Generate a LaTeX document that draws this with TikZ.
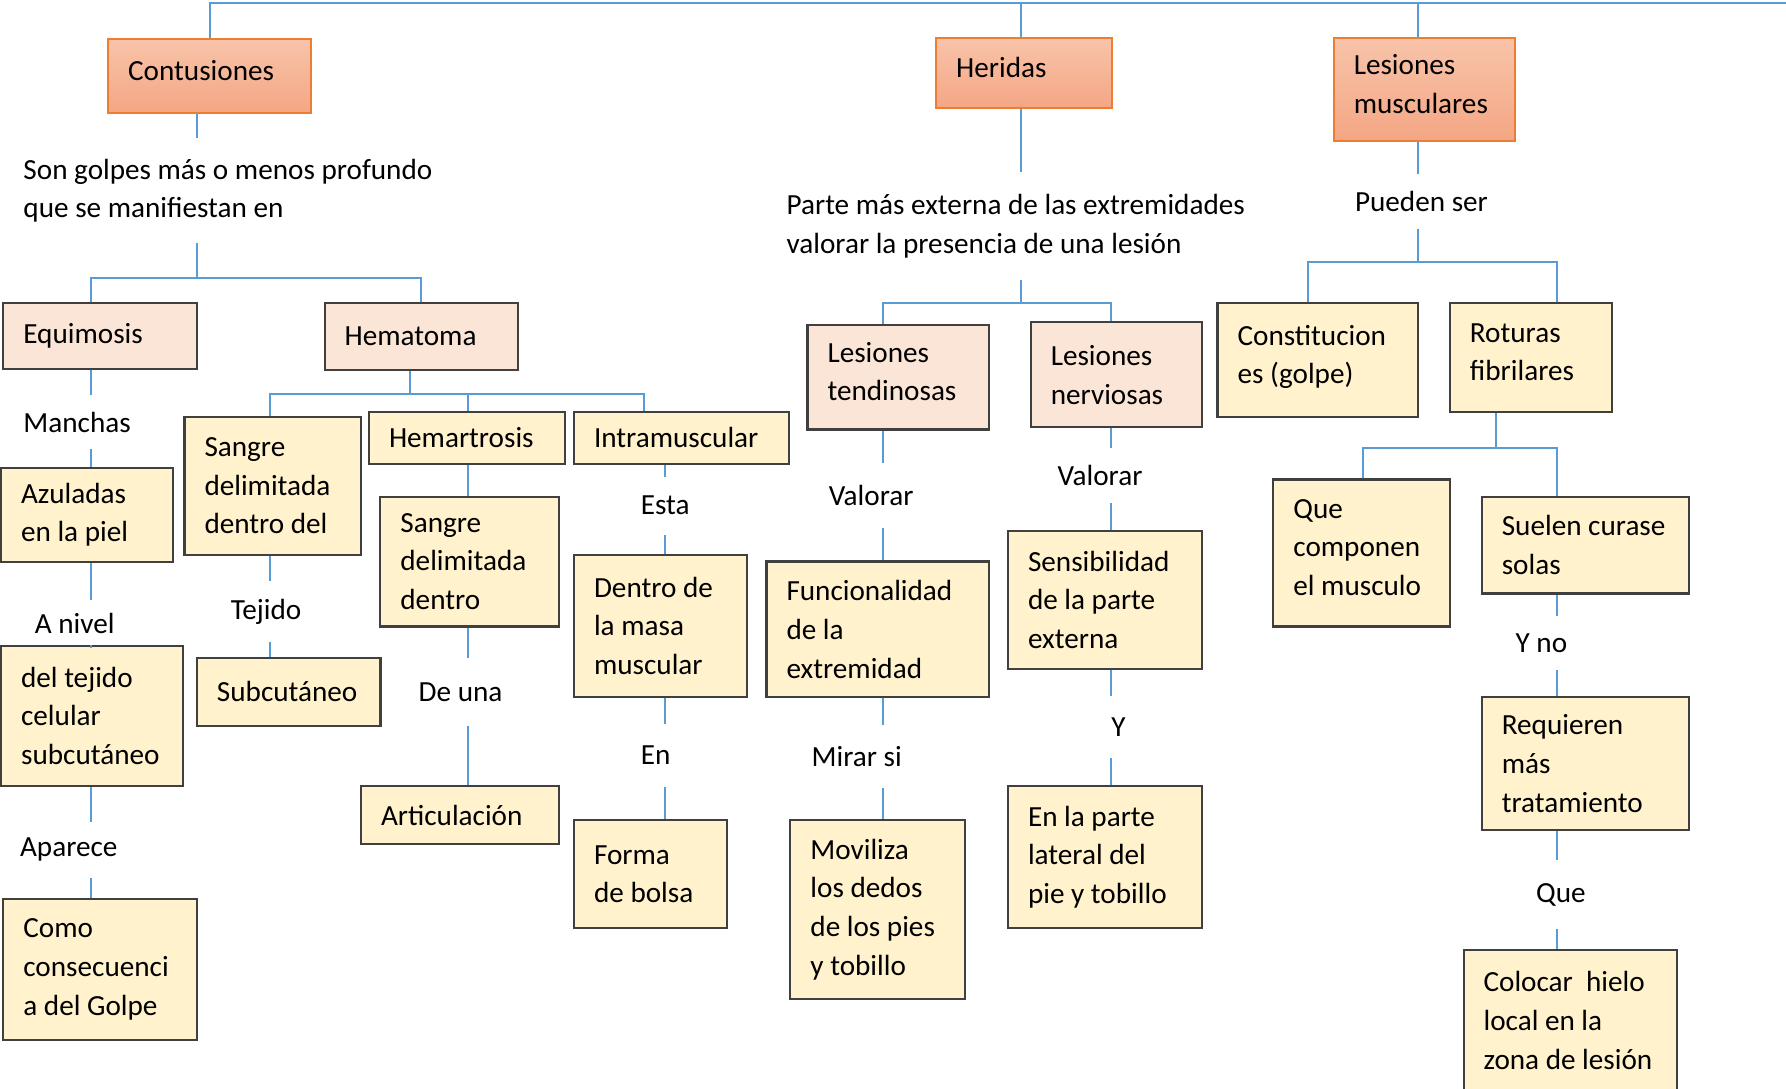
\documentclass[tikz,border=0pt]{standalone}
\usepackage{fontspec}
\setmainfont{Carlito}
\definecolor{titletop}{RGB}{248,196,170}
\definecolor{titlebot}{RGB}{244,166,132}
\definecolor{titleline}{RGB}{237,125,49}
\definecolor{pinkfill}{RGB}{251,229,214}
\definecolor{yellowfill}{RGB}{255,242,204}
\definecolor{boxline}{RGB}{64,64,64}
\definecolor{linkblue}{RGB}{91,155,213}
\newcommand{\lowstrut}{\rule[-3.2pt]{0pt}{3.2pt}}

\begin{document}
\begin{tikzpicture}[
    x=0.01139cm, y=-0.01139cm,
    font=\fontsize{8.3}{11}\selectfont,
    base/.style={rectangle, draw=boxline, line width=0.6pt, inner xsep=0.2cm, inner ysep=0pt, align=left,
        execute at begin node={\spaceskip=0pt\xspaceskip=0pt}},
    topic/.style={base, draw=titleline, top color=titletop, bottom color=titlebot},
    subtopic/.style={base, fill=pinkfill},
    item/.style={base, fill=yellowfill},
    link/.style={inner sep=0pt, align=left, anchor=west},
    conn/.style={draw=linkblue, line width=0.6pt}
]
    \useasboundingbox (0,0) rectangle (1568,956);

    % Top level
    \node[topic, text width=1.627cm, minimum height=0.740cm] (cont) at (184,66.5) {Contusiones\lowstrut};
    \node[topic, text width=1.354cm, minimum height=0.706cm] (her) at (899,64) {Heridas\lowstrut};
    \node[topic, text width=1.411cm, minimum height=1.036cm] (lmus) at (1250.5,78.5) {Lesiones\\musculares\lowstrut};

    % Contusiones
    \node[link, minimum height=1.036cm] (golpes) at (20,167.5) {Son golpes más o menos profundo\\que se manifiestan en};
    \node[subtopic, text width=1.536cm, minimum height=0.661cm] (equi) at (88,295) {Equimosis};
    \node[subtopic, text width=1.536cm, minimum height=0.672cm] (hema) at (370,295.5) {Hematoma};

    % Equimosis column
    \node[link, minimum height=0.535cm] (manchas) at (20,370.5) {Manchas};
    \node[item, text width=1.320cm, minimum height=0.934cm] (azul) at (76.5,452) {Azuladas\\en la piel};
    \node[link, minimum height=0.467cm] (anivel) at (30,547.5) {A nivel};
    \node[item, text width=1.422cm, minimum height=1.401cm] (tejcel) at (81,628.5) {del tejido\\celular\\subcutáneo};
    \node[link, minimum height=0.547cm] (aparece) at (17,746) {Aparece};
    \node[item, text width=1.536cm, minimum height=1.412cm] (como) at (88,851) {Como\\consecuenci\\a del Golpe};

    % Hematoma columns
    \node[item, text width=1.365cm, minimum height=1.378cm] (sang1) at (239.5,426.5) {Sangre\\delimitada\\dentro del};
    \node[link, minimum height=0.592cm] (tejido) at (202,537) {Tejido};
    \node[item, text width=1.434cm, minimum height=0.672cm] (subc) at (253.5,607.5) {Subcutáneo};
    \node[item, text width=1.559cm, minimum height=0.513cm] (hemar) at (410,384.5) {Hemartrosis};
    \node[item, text width=1.388cm, minimum height=1.298cm] (sang2) at (412.5,493) {Sangre\\delimitada\\dentro};
    \node[link, minimum height=0.672cm] (deuna) at (367,607.5) {De una};
    \node[item, text width=1.582cm, minimum height=0.581cm] (artic) at (404,715.5) {Articulación};
    \node[item, text width=1.753cm, minimum height=0.513cm] (intra) at (598.5,384.5) {Intramuscular};
    \node[link, minimum height=0.570cm] (esta) at (562,444) {Esta};
    \node[item, text width=1.331cm, minimum height=1.424cm] (dentro) at (580,549.5) {Dentro de\\la masa\\muscular};
    \node[link, minimum height=0.615cm] (en) at (562,663) {En};
    \node[item, text width=1.126cm, minimum height=1.082cm] (forma) at (571,767.5) {Forma\\de bolsa};

    % Heridas
    \node[link, minimum height=1.059cm] (parte) at (690,198.5) {Parte más externa de las extremidades\\valorar la presencia de una lesión};
    \node[subtopic, text width=1.411cm, minimum height=1.048cm] (ltend) at (788.5,331) {Lesiones\\tendinosas\lowstrut};
    \node[link, minimum height=0.638cm] (valtend) at (727,435) {Valorar};
    \node[item, text width=1.821cm, minimum height=1.355cm] (func) at (770.5,552.5) {Funcionalidad\\de la\\extremidad};
    \node[link, minimum height=0.615cm] (mirar) at (712,664) {Mirar si};
    \node[item, text width=1.343cm, minimum height=1.788cm] (movil) at (770.5,798.5) {Moviliza\\los dedos\\de los pies\\y tobillo};
    \node[subtopic, text width=1.309cm, minimum height=1.048cm] (lnerv) at (980,329) {Lesiones\\nerviosas};
    \node[link, minimum height=0.535cm] (valnerv) at (928,417.5) {Valorar};
    \node[item, text width=1.536cm, minimum height=1.378cm] (sens) at (970,526.5) {Sensibilidad\\de la parte\\externa};
    \node[link, minimum height=0.604cm] (yy) at (975,638.5) {Y};
    \node[item, text width=1.536cm, minimum height=1.424cm] (lateral) at (970,752.5) {En la parte\\lateral del\\pie y tobillo};

    % Lesiones musculares
    \node[link, minimum height=0.535cm] (pueden) at (1189,176.5) {Pueden ser};
    \node[item, text width=1.605cm, minimum height=1.139cm] (const) at (1157,316) {Constitucion\\es (golpe)\lowstrut};
    \node[item, text width=1.217cm, minimum height=1.093cm] (rot) at (1344,314) {Roturas\\fibrilares\lowstrut};
    \node[item, text width=1.365cm, minimum height=1.469cm] (quecomp) at (1195.5,485.5) {Que\\componen\\el musculo\lowstrut};
    \node[item, text width=1.673cm, minimum height=0.968cm] (suelen) at (1392,478.5) {Suelen curase\\solas};
    \node[link, minimum height=0.535cm] (yno) at (1330,564.5) {Y no};
    \node[item, text width=1.673cm, minimum height=1.333cm] (requ) at (1392,670.5) {Requieren\\más\\tratamiento};
    \node[link, minimum height=0.672cm] (que) at (1348,785.5) {Que};
    \node[item, text width=1.730cm, minimum height=1.412cm] (coloc) at (1378.5,896) {Colocar~ hielo\\local en la\\zona de lesión};

    % Junctions and line columns
    \coordinate (topr) at (1568,3);
    \coordinate (jcont) at (173,244);
    \coordinate (jhema) at (360,346);
    \coordinate (jher) at (896,266);
    \coordinate (jlmus) at (1245,230);
    \coordinate (jrot) at (1313,393);
    \coordinate (xa) at (80,0);
    \coordinate (xb) at (237,0);
    \coordinate (xc) at (411,0);
    \coordinate (xi) at (565,0);
    \coordinate (xd) at (584,0);
    \coordinate (xe) at (775,0);
    \coordinate (xf) at (975,0);
    \coordinate (xk) at (1148,0);
    \coordinate (xq) at (1197,0);
    \coordinate (xg) at (1367,0);

    % Top bar
    \draw[conn] (cont.north) |- (topr);
    \draw[conn] (her.north -| jher) -- (topr -| jher);
    \draw[conn] (lmus.north -| jlmus) -- (topr -| jlmus);

    % Contusiones lines
    \draw[conn] (cont.south -| jcont) -- (golpes.north -| jcont);
    \draw[conn] (golpes.south -| jcont) -- (jcont);
    \draw[conn] (equi.north -| xa) |- (jcont) -| (hema.north);
    \draw[conn] (equi.south -| xa) -- (manchas.north -| xa);
    \draw[conn] (manchas.south -| xa) -- (azul.north -| xa);
    \draw[conn] (azul.south -| xa) -- (anivel.north -| xa);
    \draw[conn] (anivel.south -| xa) -- (tejcel.north -| xa);
    \draw[conn] (tejcel.south -| xa) -- (aparece.north -| xa);
    \draw[conn] (aparece.south -| xa) -- (como.north -| xa);

    \draw[conn] (hema.south -| jhema) -- (jhema);
    \draw[conn] (sang1.north -| xb) |- (jhema) -| (intra.north -| xi);
    \draw[conn] (hemar.north -| xc) -- (jhema -| xc);
    \draw[conn] (sang1.south -| xb) -- (tejido.north -| xb);
    \draw[conn] (tejido.south -| xb) -- (subc.north -| xb);
    \draw[conn] (hemar.south -| xc) -- (sang2.north -| xc);
    \draw[conn] (sang2.south -| xc) -- (deuna.north -| xc);
    \draw[conn] (deuna.south -| xc) -- (artic.north -| xc);
    \draw[conn] (intra.south -| xd) -- (esta.north -| xd);
    \draw[conn] (esta.south -| xd) -- (dentro.north -| xd);
    \draw[conn] (dentro.south -| xd) -- (en.north -| xd);
    \draw[conn] (en.south -| xd) -- (forma.north -| xd);

    % Heridas lines
    \draw[conn] (her.south -| jher) -- (parte.north -| jher);
    \draw[conn] (parte.south -| jher) -- (jher);
    \draw[conn] (ltend.north -| xe) |- (jher) -| (lnerv.north -| xf);
    \draw[conn] (ltend.south -| xe) -- (valtend.north -| xe);
    \draw[conn] (valtend.south -| xe) -- (func.north -| xe);
    \draw[conn] (func.south -| xe) -- (mirar.north -| xe);
    \draw[conn] (mirar.south -| xe) -- (movil.north -| xe);
    \draw[conn] (lnerv.south -| xf) -- (valnerv.north -| xf);
    \draw[conn] (valnerv.south -| xf) -- (sens.north -| xf);
    \draw[conn] (sens.south -| xf) -- (yy.north -| xf);
    \draw[conn] (yy.south -| xf) -- (lateral.north -| xf);

    % Lesiones musculares lines
    \draw[conn] (lmus.south -| jlmus) -- (pueden.north -| jlmus);
    \draw[conn] (pueden.south -| jlmus) -- (jlmus);
    \draw[conn] (const.north -| xk) |- (jlmus) -| (rot.north -| xg);
    \draw[conn] (rot.south -| jrot) -- (jrot);
    \draw[conn] (quecomp.north -| xq) |- (jrot) -| (suelen.north -| xg);
    \draw[conn] (suelen.south -| xg) -- (yno.north -| xg);
    \draw[conn] (yno.south -| xg) -- (requ.north -| xg);
    \draw[conn] (requ.south -| xg) -- (que.north -| xg);
    \draw[conn] (que.south -| xg) -- (coloc.north -| xg);
\end{tikzpicture}
\end{document}
